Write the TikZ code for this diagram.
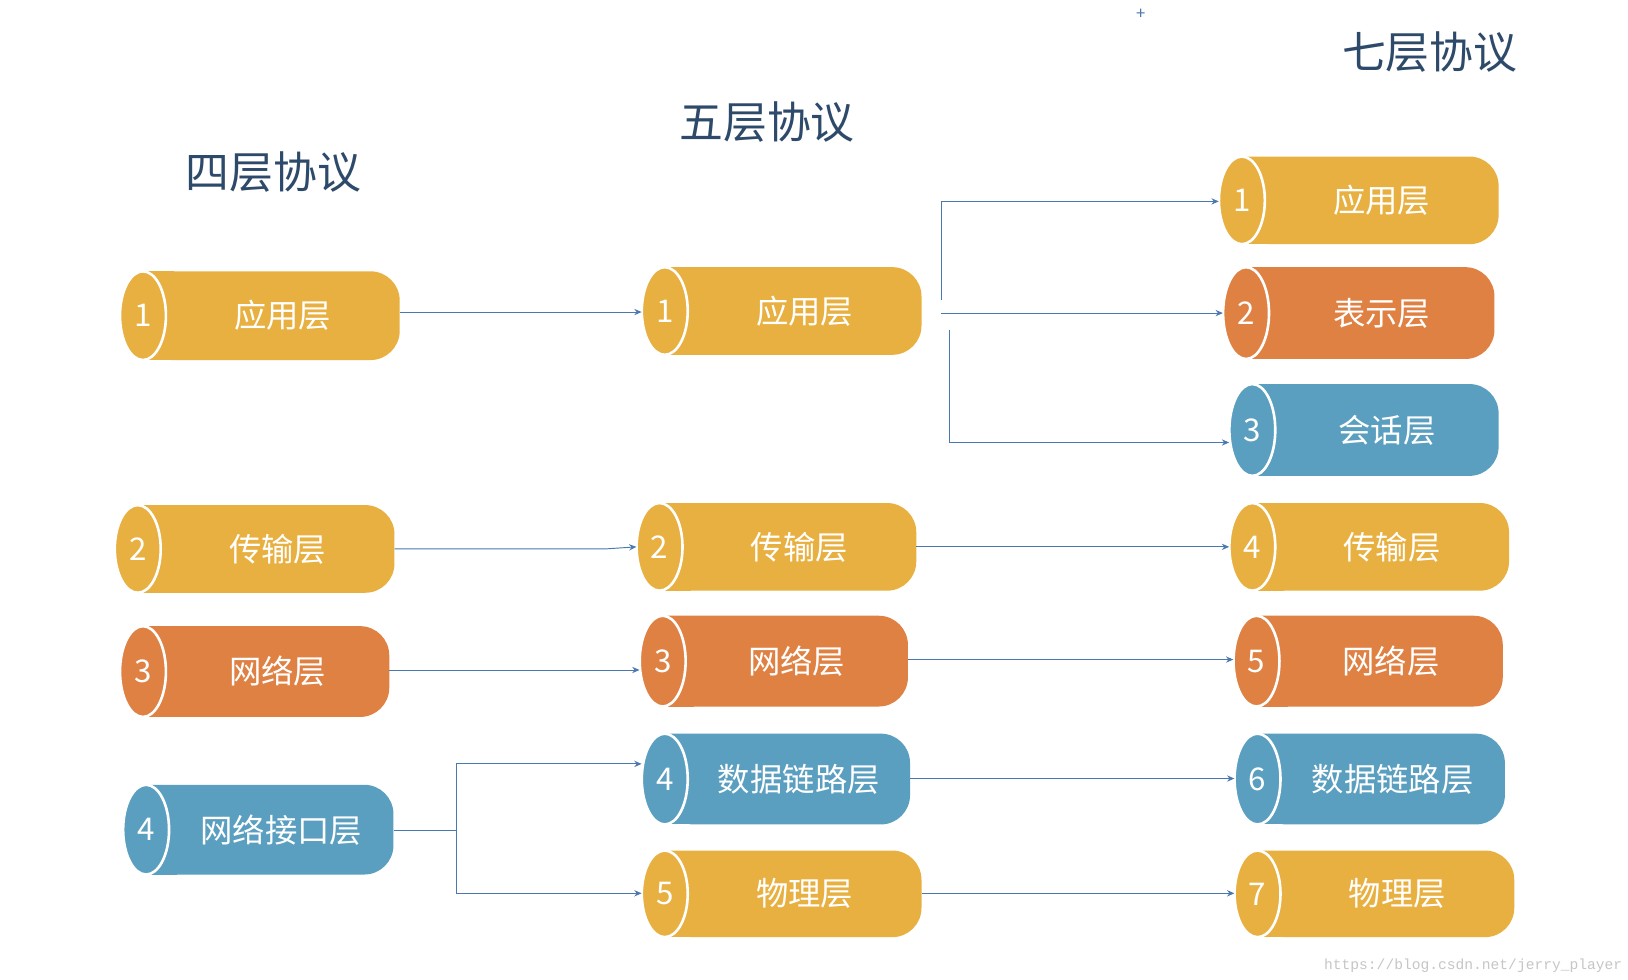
\documentclass[tikz,border=0pt]{standalone}
\usepackage{fontspec}
\setmainfont{Noto Sans CJK SC}
\newfontfamily\wmfont{Liberation Mono}
\usetikzlibrary{arrows.meta}
\definecolor{cy}{HTML}{E8B040}
\definecolor{co}{HTML}{E08144}
\definecolor{cb}{HTML}{5B9FC0}
\definecolor{cl}{HTML}{4A78B0}
\definecolor{ct}{HTML}{2E4A6A}
\tikzset{
  conn/.style={draw=cl, line width=0.9pt, -{Stealth[length=7pt,width=6pt]}},
  plain/.style={draw=cl, line width=0.9pt},
  title/.style={text=ct, font=\fontsize{42}{46}\selectfont},
  lbl/.style={text=white, font=\fontsize{31}{34}\selectfont},
  num/.style={text=white, font=\fontsize{30}{32}\selectfont},
}
\newcommand{\pill}[8]{%
  \pgfmathsetmacro{\cyy}{(#4+#5)/2}%
  \pgfmathsetmacro{\ry}{(#5-#4)/2}%
  \pgfmathsetmacro{\ex}{#2+22}%
  \fill[#6, rounded corners=28pt] (\ex,#4) -- (#3,#4) -- (#3,#5) -- (\ex,#5) [sharp corners] -- cycle;
  \fill[#6] (\ex,#4) rectangle (\ex+30,#5);
  \draw[white, line width=2.5pt, fill=#6] (\ex,\cyy) ellipse [x radius=22, y radius=\ry];
  \node[inner sep=0, minimum width={(#3-#2)*1pt}, minimum height={(#5-#4)*1pt}] (#1) at ({(#2+#3)/2},\cyy) {};
  \node[num] at (\ex,\cyy) {#7};
  \node[lbl] at ({(\ex+22+#3)/2},\cyy) {#8};
}
\begin{document}
\begin{tikzpicture}[x=1pt,y=-1pt]
\useasboundingbox[fill=white] (0,0) rectangle (1560,939);
\node[title] (t4) at (262,165) {四层协议};
\node[title] (t5) at (735,117) {五层协议};
\node[title] (t7) at (1370,50) {七层协议};
\node[text=cl, font=\fontsize{16}{16}\selectfont] (plus) at (1093,14) {+};
\node[text=gray!45, font=\wmfont\fontsize{14}{14}\selectfont, anchor=east] (wm) at (1558,925) {https://blog.csdn.net/jerry\_player};

\pill{a1}{115}{383}{260}{345}{cy}{1}{应用层}
\pill{a2}{110}{378}{484}{568}{cy}{2}{传输层}
\pill{a3}{115}{373}{600}{687}{co}{3}{网络层}
\pill{a4}{118}{377}{752}{838}{cb}{4}{网络接口层}

\pill{b1}{615}{883}{256}{340}{cy}{1}{应用层}
\pill{b2}{610}{878}{482}{566}{cy}{2}{传输层}
\pill{b3}{613}{870}{590}{677}{co}{3}{网络层}
\pill{b4}{615}{872}{703}{790}{cb}{4}{数据链路层}
\pill{b5}{615}{883}{815}{898}{cy}{5}{物理层}

\pill{c1}{1168}{1436}{150}{234}{cy}{1}{应用层}
\pill{c2}{1172}{1432}{256}{344}{co}{2}{表示层}
\pill{c3}{1178}{1436}{368}{456}{cb}{3}{会话层}
\pill{c4}{1178}{1446}{482}{566}{cy}{4}{传输层}
\pill{c5}{1182}{1440}{590}{677}{co}{5}{网络层}
\pill{c6}{1183}{1442}{703}{790}{cb}{6}{数据链路层}
\pill{c7}{1183}{1451}{815}{898}{cy}{7}{物理层}

\coordinate (j1) at (902,287);
\coordinate (j1t) at (902,193);
\coordinate (j2) at (902,300);
\coordinate (j3) at (910,316);
\coordinate (j3b) at (910,424);
\coordinate (k) at (437,796);
\coordinate (kt) at (437,732);
\coordinate (kb) at (437,856);

\draw[conn] (a1.east |- 0,299) -- (b1.west |- 0,299);
\draw[conn] (j1) -- (j1t) -- (c1.west |- j1t);
\draw[conn] (j2) -- (c2.west |- j2);
\draw[conn] (j3) -- (j3b) -- (c3.west |- j3b);
\draw[conn] (a2.east |- 0,526) -- (580,526) -- (b2.west |- 0,524);
\draw[conn] (a3.east |- 0,642) -- (b3.west |- 0,642);
\draw[plain] (a4.east |- k) -- (k);
\draw[conn] (kb) -- (kt) -- (b4.west |- kt);
\draw[conn] (k) -- (kb) -- (b5.west |- kb);
\draw[conn] (b2.east |- 0,524) -- (c4.west |- 0,524);
\draw[conn] (b3.east |- 0,632) -- (c5.west |- 0,632);
\draw[conn] (b4.east |- 0,746) -- (c6.west |- 0,746);
\draw[conn] (b5.east |- 0,856) -- (c7.west |- 0,856);
\end{tikzpicture}
\end{document}
